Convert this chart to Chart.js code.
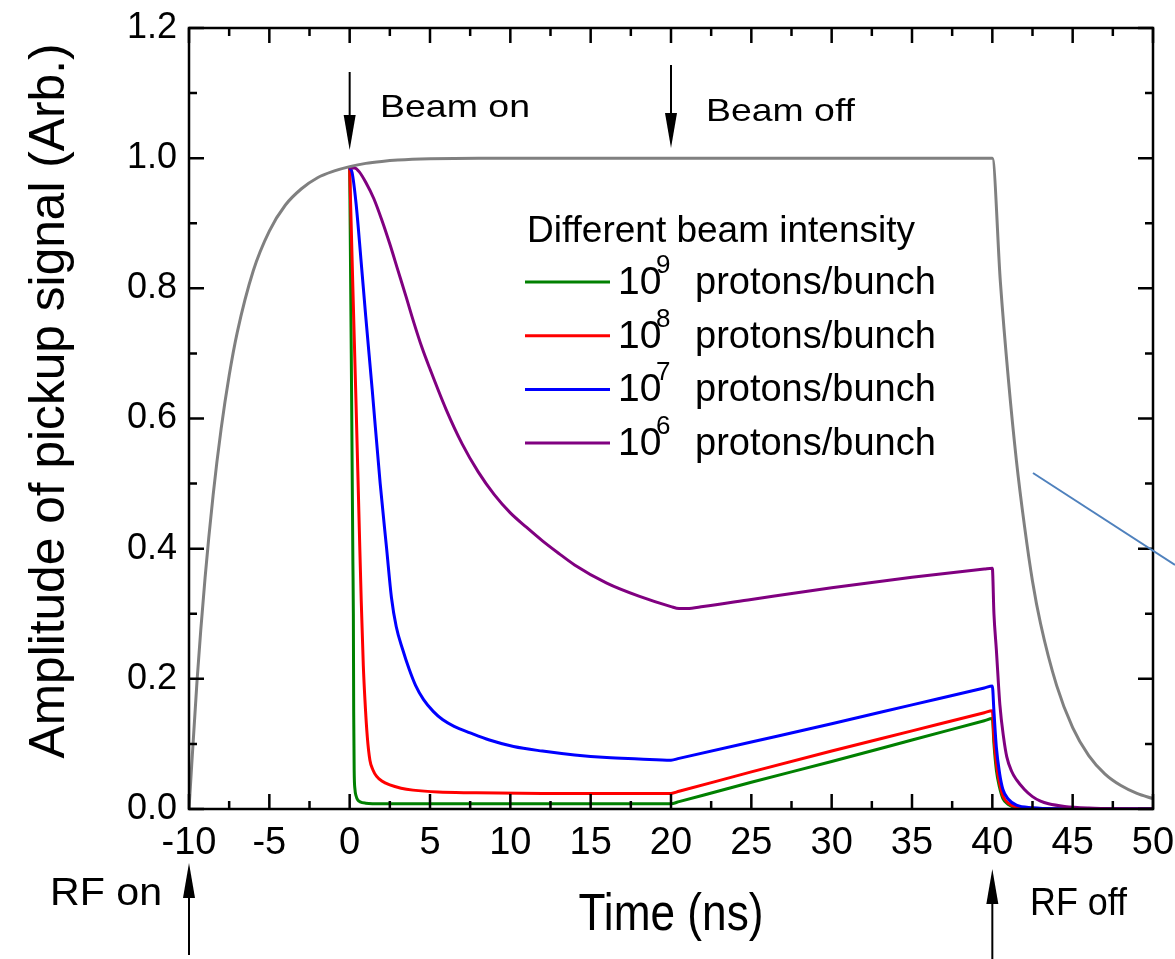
<!DOCTYPE html>
<html>
<head>
<meta charset="utf-8">
<script src="https://cdn.jsdelivr.net/npm/chart.js@4.4.0/dist/chart.umd.min.js"></script>
<style>
  html, body { margin: 0; padding: 0; background: #fff; }
  #wrap { width: 1175px; height: 959px; }
</style>
</head>
<body>
<div id="wrap"><canvas id="chartPickup" width="1175" height="959"></canvas></div>
<script>
var FONT = '"Liberation Sans", Arial, sans-serif';

// RF only (no beam)
var rfOnlyT   = [-10, -9.5, -9, -8.5, -8, -7.5, -7, -6, -5, -4, -3, -2, -1, 0, 1, 2, 3, 5, 8, 40,
                 40.5, 41, 41.5, 42, 42.5, 43, 44, 45, 46, 47, 48, 49, 50];
var rfOnlyAmp = [0, 0.197, 0.355, 0.482, 0.584, 0.666, 0.732, 0.827, 0.888, 0.928, 0.953, 0.97, 0.98, 0.987, 0.992, 0.995, 0.997, 0.999, 1.0, 1.0,
                 0.81, 0.66, 0.535, 0.435, 0.35, 0.285, 0.19, 0.125, 0.082, 0.054, 0.036, 0.024, 0.016];

// 1e9 protons/bunch
var p9T   = [0, 0.1, 0.2, 0.23, 0.25, 0.28, 0.33, 0.4, 0.5, 0.65, 1.0, 2, 20, 20.5, 25, 30, 35, 39.5, 40,
             40.1, 40.25, 40.45, 40.66, 41, 41.5, 42.5, 44, 50];
var p9Amp = [0.985, 0.7, 0.38, 0.3, 0.15, 0.06, 0.03, 0.02, 0.014, 0.011, 0.009, 0.008, 0.008, 0.0113, 0.041, 0.073, 0.106, 0.1357, 0.139,
             0.1, 0.06, 0.033, 0.016, 0.007, 0.002, 0.0005, 0, 0];

// 1e8 protons/bunch
var p8T   = [0, 0.2, 0.4, 0.6, 0.72, 0.85, 0.95, 1.1, 1.26, 1.45, 1.68, 2.0, 2.5, 3.2, 3.94, 5.5, 7.7, 12, 20, 20.5, 25, 30, 35, 39.5, 40,
             40.1, 40.25, 40.45, 40.66, 41, 41.5, 42.5, 44, 50];
var p8Amp = [0.985, 0.8, 0.62, 0.43, 0.32, 0.22, 0.168, 0.11, 0.075, 0.06, 0.05, 0.043, 0.037, 0.032, 0.029, 0.026, 0.025, 0.024, 0.024, 0.0272, 0.057, 0.089, 0.12, 0.148, 0.151,
             0.11, 0.07, 0.04, 0.02, 0.009, 0.003, 0.001, 0, 0];

// 1e7 protons/bunch
var p7T   = [0, 0.15, 0.4, 0.7, 1.0, 1.4, 1.9, 2.3, 2.6, 2.9, 3.3, 3.7, 4.1, 4.6, 5.2, 5.8, 6.5, 7.5, 8.7, 10.2, 12, 14, 16, 18, 20,
             20.5, 25, 30, 35, 39.5, 40,
             40.1, 40.25, 40.45, 40.66, 41, 41.5, 42.5, 44, 50];
var p7Amp = [0.985, 0.978, 0.93, 0.845, 0.757, 0.645, 0.5, 0.4, 0.325, 0.28, 0.245, 0.215, 0.19, 0.168, 0.15, 0.137, 0.127, 0.117, 0.106, 0.096, 0.089, 0.083, 0.079, 0.077, 0.075,
             0.0778, 0.103, 0.131, 0.16, 0.186, 0.189,
             0.15, 0.095, 0.055, 0.03, 0.015, 0.006, 0.002, 0.0005, 0];

// 1e6 protons/bunch
var p6T   = [0, 0.3, 0.6, 1.0, 1.5, 2.0, 2.5, 3.0, 3.5, 4.0, 4.5, 5.0, 6.0, 7.0, 8.0, 9.0, 10, 11, 12, 13, 14, 16, 18, 20, 20.5, 21, 22, 25, 30, 35, 39.5, 40,
             40.1, 40.25, 40.47, 40.7, 40.9, 41.2, 41.5, 42, 42.5, 43, 43.5, 44.5, 46, 48, 50];
var p6Amp = [0.985, 0.985, 0.979, 0.963, 0.938, 0.905, 0.868, 0.828, 0.788, 0.747, 0.709, 0.676, 0.614, 0.561, 0.518, 0.483, 0.455, 0.433, 0.412, 0.393, 0.375, 0.347, 0.327, 0.311, 0.308, 0.308, 0.311, 0.322, 0.34, 0.356, 0.3687, 0.37,
             0.3, 0.245, 0.16, 0.11, 0.08, 0.058, 0.045, 0.03, 0.019, 0.012, 0.008, 0.004, 0.0015, 0.0003, 0];

var legendBases  = ['10', '10', '10', '10'];
var legendExps   = ['9', '8', '7', '6'];
var legendUnit   = 'protons/bunch';
var legendColors = ['#008000', '#ff0000', '#0000ff', '#800080'];

function pts(t, a) {
  var out = [];
  for (var i = 0; i < t.length; i++) out.push({x: t[i], y: a[i]});
  return out;
}

function series(t, a, color, order) {
  return {
    data: pts(t, a),
    showLine: true,
    borderColor: color,
    borderWidth: 3,
    pointRadius: 0,
    cubicInterpolationMode: 'monotone',
    order: order
  };
}

function drawText(ctx, txt, x, y, size, sx, align) {
  ctx.save();
  ctx.font = size + 'px ' + FONT;
  ctx.translate(x, y);
  ctx.scale(sx, 1);
  ctx.textAlign = align || 'left';
  ctx.textBaseline = 'alphabetic';
  ctx.fillStyle = '#000';
  ctx.fillText(txt, 0, 0);
  ctx.restore();
}

function fitText(ctx, txt, x, y, size, width) {
  ctx.font = size + 'px ' + FONT;
  var sx = width / ctx.measureText(txt).width;
  drawText(ctx, txt, x, y, size, sx, 'left');
}

function arrow(ctx, x, yTail, yTip) {
  var dir = yTip > yTail ? 1 : -1;
  ctx.save();
  ctx.strokeStyle = '#000';
  ctx.fillStyle = '#000';
  ctx.lineWidth = 2;
  ctx.beginPath();
  ctx.moveTo(x, yTail);
  ctx.lineTo(x, yTip - dir * 30);
  ctx.stroke();
  ctx.beginPath();
  ctx.moveTo(x, yTip);
  ctx.lineTo(x - 6, yTip - dir * 35);
  ctx.lineTo(x + 6, yTip - dir * 35);
  ctx.closePath();
  ctx.fill();
  ctx.restore();
}

var decor = {
  id: 'decor',
  afterDraw: function(chart) {
    var ctx = chart.ctx;
    var a = chart.chartArea;
    var xs = chart.scales.x, ys = chart.scales.y;

    // frame + inward ticks on all four sides
    ctx.save();
    ctx.strokeStyle = '#000';
    ctx.lineWidth = 2.5;
    ctx.strokeRect(a.left, a.top, a.right - a.left, a.bottom - a.top);
    ctx.beginPath();
    for (var i = 0; i <= 24; i++) {
      var px = xs.getPixelForValue(-10 + i * 2.5);
      var len = (i % 2 === 0) ? 15 : 8;
      ctx.moveTo(px, a.bottom); ctx.lineTo(px, a.bottom - len);
      ctx.moveTo(px, a.top); ctx.lineTo(px, a.top + len);
    }
    for (var j = 0; j <= 12; j++) {
      var py = ys.getPixelForValue(j * 0.1);
      var l2 = (j % 2 === 0) ? 15 : 8;
      ctx.moveTo(a.left, py); ctx.lineTo(a.left + l2, py);
      ctx.moveTo(a.right, py); ctx.lineTo(a.right - l2, py);
    }
    ctx.stroke();
    ctx.restore();

    // axis titles
    drawText(ctx, 'Time (ns)', (a.left + a.right) / 2, 930, 52, 0.85, 'center');
    ctx.save();
    ctx.translate(64, 401);
    ctx.rotate(-Math.PI / 2);
    ctx.font = '50px ' + FONT;
    var ySx = 715 / ctx.measureText('Amplitude of pickup signal (Arb.)').width;
    drawText(ctx, 'Amplitude of pickup signal (Arb.)', 0, 0, 50, ySx, 'center');
    ctx.restore();

    // event markers
    arrow(ctx, xs.getPixelForValue(0), 72, 150);
    arrow(ctx, xs.getPixelForValue(20), 65, 148);
    arrow(ctx, xs.getPixelForValue(-10), 955, 863);
    arrow(ctx, xs.getPixelForValue(40), 959, 869);
    fitText(ctx, 'Beam on', 380, 117, 32, 150);
    fitText(ctx, 'Beam off', 706, 121, 32, 149);
    fitText(ctx, 'RF on', 50, 905, 39, 112);
    fitText(ctx, 'RF off', 1030, 915, 39, 97);

    // legend
    drawText(ctx, 'Different beam intensity', 527, 242, 37, 1, 'left');
    for (var k = 0; k < legendBases.length; k++) {
      var base = 294 + k * 53.7;
      var ly = 282 + k * 53.7;
      ctx.save();
      ctx.strokeStyle = legendColors[k];
      ctx.lineWidth = 3;
      ctx.beginPath();
      ctx.moveTo(525, ly); ctx.lineTo(610, ly);
      ctx.stroke();
      ctx.restore();
      drawText(ctx, legendBases[k], 618, base, 39, 1, 'left');
      drawText(ctx, legendExps[k], 656, base - 21, 26, 1, 'left');
      drawText(ctx, legendUnit, 695, base, 38, 1, 'left');
    }

    // stray pointer line at right edge
    ctx.save();
    ctx.strokeStyle = '#4f81bd';
    ctx.lineWidth = 2;
    ctx.beginPath();
    ctx.moveTo(1033, 473);
    ctx.lineTo(1175, 565);
    ctx.stroke();
    ctx.restore();
  }
};

var ctx = document.getElementById('chartPickup').getContext('2d');
var chartPickup = new Chart(ctx, {
  type: 'scatter',
  data: {
    datasets: [
      series(rfOnlyT, rfOnlyAmp, '#808080', 0),
      series(p6T, p6Amp, legendColors[3], 1),
      series(p7T, p7Amp, legendColors[2], 2),
      series(p8T, p8Amp, legendColors[1], 3),
      series(p9T, p9Amp, legendColors[0], 4)
    ]
  },
  options: {
    responsive: false,
    animation: false,
    devicePixelRatio: 1,
    layout: { padding: { left: 0, top: 28, right: 22, bottom: 0 } },
    plugins: {
      legend: { display: false },
      tooltip: { enabled: false }
    },
    scales: {
      x: {
        type: 'linear', min: -10, max: 50,
        afterFit: function(s) { s.height = 150; s.paddingLeft = 0; s.paddingRight = 0; },
        grid: { display: false, drawTicks: false },
        border: { display: false },
        ticks: {
          stepSize: 5, autoSkip: false, maxRotation: 0, padding: 12, color: '#000',
          font: { family: FONT, size: 38 }
        }
      },
      y: {
        type: 'linear', min: 0, max: 1.2,
        afterFit: function(s) { s.width = 189; s.paddingTop = 0; s.paddingBottom = 0; },
        grid: { display: false, drawTicks: false },
        border: { display: false },
        ticks: {
          stepSize: 0.2, padding: 12, color: '#000',
          font: { family: FONT, size: 36 },
          callback: function(v) { return v.toFixed(1); }
        }
      }
    }
  },
  plugins: [decor]
});
</script>
</body>
</html>
